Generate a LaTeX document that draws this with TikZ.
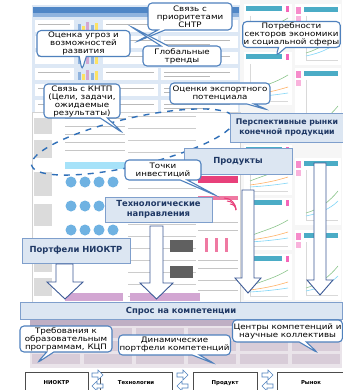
\documentclass[tikz,border=0pt]{standalone}
\usepackage{fontspec}
\setmainfont{DejaVu Sans}
\newfontfamily\calfont[FakeStretch=1.16]{DejaVu Sans}
\usetikzlibrary{shapes.callouts}
\definecolor{cborder}{HTML}{4F81BD}
\definecolor{bluefill}{HTML}{DCE6F2}
\definecolor{blueedge}{HTML}{7F9FCC}
\definecolor{navy}{HTML}{1F3864}
\definecolor{arrowedge}{HTML}{3C5A96}
\definecolor{scrbg}{HTML}{DDE8F5}
\definecolor{titlebar}{HTML}{4F86C6}
\definecolor{subbar}{HTML}{8FB3DE}
\definecolor{cyanbar}{HTML}{4BACC6}
\definecolor{pinkbar}{HTML}{E8407A}
\definecolor{circblue}{HTML}{6FB2E2}
\definecolor{bandbg}{HTML}{EAE4EA}
\definecolor{bandcell}{HTML}{D8CCD8}
\definecolor{bandhead}{HTML}{BFAFC4}
\definecolor{dashblue}{HTML}{2F6FB8}
\newcommand\cfont{\calfont\fontsize{7.5}{8}\selectfont}
\newcommand\bfont{\fontsize{8.4}{10.5}\selectfont\bfseries}
\newcommand\rfont{\fontsize{5.4}{6}\selectfont\bfseries}
\tikzset{
  callbox/.style={rectangle callout, draw=cborder, line width=1.1pt, fill=white,
    rounded corners=4pt, align=center, font=\cfont, inner sep=1pt},
  bluebox/.style={draw=blueedge, line width=0.9pt, fill=bluefill, align=center,
    font=\bfont, text=navy, inner sep=1pt},
  blockarrow/.style={draw=arrowedge, line width=0.9pt, fill=white},
  rowbox/.style={draw=gray!60!black, line width=0.7pt, fill=white, font=\rfont,
    minimum height=22pt, inner sep=1pt},
  smallarrow/.style={draw=cborder, line width=0.6pt, fill=white},
  txtline/.style={gray!55, line width=0.6pt}
}
\begin{document}
\begin{tikzpicture}[x=1pt,y=-1pt]
\useasboundingbox (0,0) rectangle (342,390);
\fill[white] (0,0) rectangle (342,390);

% ---------- top-left screenshot ----------
\fill[scrbg] (32,5) rectangle (240,112);
\fill[titlebar] (33,7) rectangle (239,13);
\fill[subbar] (33,13) rectangle (239,17);
\foreach \y in {20,36,52,68,84,100} {
  \fill[white] (35,\y) rectangle (74,\y+12);
  \fill[white] (103,\y) rectangle (158,\y+12);
  \fill[white] (161,\y) rectangle (238,\y+12);
  \draw[txtline] (38,\y+4) -- (70,\y+4);
  \draw[txtline] (106,\y+4) -- (154,\y+4);
  \draw[txtline] (164,\y+4) -- (230,\y+4);
  \draw[txtline] (164,\y+8) -- (210,\y+8);
  \fill[subbar] (78,\y+4) rectangle (81,\y+12);
  \fill[yellow!70!orange!60] (82,\y+6) rectangle (85,\y+12);
  \fill[violet!35] (86,\y+2) rectangle (89,\y+12);
  \fill[subbar] (91,\y+5) rectangle (94,\y+12);
  \fill[yellow!70!orange!60] (95,\y+3) rectangle (98,\y+12);
}

% ---------- right screenshot ----------
\fill[gray!7] (240,0) rectangle (342,302);
\foreach \ya/\yb in {4/48,52/105,145/195,198/250,254/300} {
  \fill[white] (244,\ya) rectangle (292,\yb);
  \fill[cyanbar] (246,\ya+2) rectangle (282,\ya+7);
  \fill[magenta!60] (286,\ya+2) rectangle (289,\ya+8);
  \draw[gray!30] (250,\ya+12) -- (250,\yb-4) -- (288,\yb-4);
  \draw[green!50!black!45, line width=0.6pt] (250,\yb-14) .. controls (265,\yb-20) and (275,\yb-22) .. (288,\yb-30);
  \draw[orange!60, line width=0.6pt] (250,\yb-10) .. controls (265,\yb-12) and (275,\yb-14) .. (288,\yb-18);
  \draw[cyan!50, line width=0.6pt] (250,\yb-8) .. controls (265,\yb-9) and (275,\yb-10) .. (288,\yb-12);
}
\foreach \ya/\yb in {4/65,68/140,158/225,230/300} {
  \fill[white] (295,\ya) rectangle (341,\yb);
  \fill[magenta!45] (296,\ya+3) rectangle (301,\ya+10);
  \fill[magenta!30] (296,\ya+12) rectangle (301,\ya+18);
  \fill[cyanbar] (304,\ya+3) rectangle (338,\ya+8);
  \draw[gray!30] (306,\ya+12) -- (306,\yb-5) -- (338,\yb-5);
  \draw[green!50!black!45, line width=0.6pt] (306,\yb-12) .. controls (320,\yb-16) and (330,\yb-24) .. (338,\yb-34);
  \draw[cyan!50, line width=0.6pt] (306,\yb-9) .. controls (320,\yb-12) and (330,\yb-16) .. (338,\yb-24);
}

% ---------- middle screenshot ----------
\fill[white] (32,112) rectangle (240,302);
\draw[gray!35] (32,112) rectangle (240,302);
\foreach \ya/\yb in {118/134,140/158,172/196,204/226,252/272,278/296} {
  \fill[gray!28] (34,\ya) rectangle (52,\yb);
}
\foreach \y in {118,126,134,142,150} {
  \draw[gray!45] (65,\y) -- (125,\y);
}
\fill[cyan!35] (65,162) rectangle (125,169);
\foreach \yy in {182,206,230} {
  \foreach \xx in {71,85,99,113} {
    \fill[circblue] (\xx,\yy) circle (5.5);
  }
}
\foreach \y in {116,128,140,152,164,176,188,200,212,224,236,248,260,272,284,296} {
  \draw[gray!40] (128,\y) -- (196,\y);
}
\fill[gray!75!black] (170,240) rectangle (193,252);
\fill[gray!75!black] (170,266) rectangle (193,278);
\fill[pinkbar] (198,176) rectangle (238,183);
\fill[pinkbar!70] (198,196) rectangle (238,200);
\foreach \r in {6,9,12} {
  \draw[pinkbar, line width=1pt] (200,210) arc (180:270:\r);
  \draw[pinkbar, line width=1pt] (236,210) arc (0:-90:\r);
}
\foreach \xx in {205,215,225} {
  \fill[pinkbar!70] (\xx,238) rectangle (\xx+3,252);
}
\foreach \y in {222,230,260,268,280,290} {
  \draw[gray!45] (198,\y) -- (238,\y);
}
\fill[violet!35] (65,293) rectangle (123,301);
\fill[violet!35] (130,293) rectangle (200,301);

% ---------- bottom band ----------
\fill[bandbg] (30,318) rectangle (342,368);
\fill[bandhead] (30,320) rectangle (342,326);
\foreach \yy in {328,341,354} {
  \foreach \xx in {32,84,136,188,240,292} {
    \fill[bandcell] (\xx,\yy) rectangle (\xx+48,\yy+10);
  }
}

% ---------- dashed loop ----------
\draw[dashblue, line width=1.4pt, dash pattern=on 6pt off 6pt, rotate around={13:(133,142)}]
  (133,142) ellipse [x radius=104, y radius=24];

% ---------- blue boxes ----------
\node[bluebox, font=\fontsize{7.8}{10.5}\selectfont\bfseries, minimum width=114pt, minimum height=29pt] (rynki) at (287,127.5)
  {Перспективные рынки\\конечной продукции};
\node[bluebox, minimum width=108pt, minimum height=26pt] (prod) at (238,161) {Продукты};
\node[bluebox, minimum width=107pt, minimum height=25pt] (tech) at (158.5,209.5)
  {Технологические\\направления};
\node[bluebox, minimum width=108pt, minimum height=25pt] (port) at (76,250.5) {Портфели НИОКТР};

% ---------- block arrows ----------
\draw[blockarrow] (56,264) -- (73,264) -- (73,282) -- (83,282) -- (65,299) -- (47,282) -- (56,282) -- cycle;
\draw[blockarrow] (150,226) -- (163,226) -- (163,283) -- (173,283) -- (156.5,299) -- (140,283) -- (150,283) -- cycle;
\draw[blockarrow] (242,190) -- (254,190) -- (254,278) -- (261,278) -- (248,293) -- (235,278) -- (242,278) -- cycle;
\draw[blockarrow] (314,163) -- (326,163) -- (326,280) -- (333,280) -- (320,295) -- (307,280) -- (314,280) -- cycle;

\node[bluebox, minimum width=322pt, minimum height=17pt] (spros) at (181,311) {Спрос на компетенции};

% ---------- callouts ----------
\node[callbox, minimum width=84pt, minimum height=27pt, callout absolute pointer={(136,42)}] (snr) at (190,16.5)
  {Связь с\\приоритетами\\СНТР};
\node[callbox, minimum width=93pt, minimum height=26pt, callout absolute pointer={(82,70)}] (ugroz) at (83.5,43.5)
  {Оценка угроз и\\возможностей\\развития};
\node[callbox, minimum width=78pt, minimum height=20pt, callout absolute pointer={(130,26)}] (glob) at (182,56)
  {Глобальные\\тренды};
\node[callbox, minimum width=95pt, minimum height=26pt, callout absolute pointer={(276,56)}] (potr) at (291.5,34.5)
  {Потребности\\секторов экономики\\и социальной сферы};
\node[callbox, minimum width=100pt, minimum height=21pt, callout absolute pointer={(268,110)}] (exp) at (220,93.5)
  {Оценки экспортного\\потенциала};
\node[callbox, minimum width=76pt, minimum height=34pt, callout absolute pointer={(123,133)}] (kntp) at (82,101)
  {Связь с КНТП\\(Цели, задачи,\\ожидаемые\\результаты)};
\node[callbox, minimum width=76pt, minimum height=20pt, callout absolute pointer={(217,196)}] (tochki) at (163,170)
  {Точки\\инвестиций};
\node[callbox, minimum width=92pt, minimum height=26pt, callout absolute pointer={(37,363)}] (treb) at (66,339)
  {Требования к\\образовательным\\программам, КЦП};
\node[callbox, minimum width=111pt, minimum height=20pt, callout absolute pointer={(215,364)}] (dyn) at (174.5,345)
  {Динамические\\портфели компетенций};
\node[callbox, minimum width=103pt, minimum height=22pt, callout absolute pointer={(318,353)}] (centr) at (287.5,331)
  {Центры компетенций и\\научные коллективы};

% ---------- bottom row ----------
\node[rowbox, minimum width=63pt] (niokr) at (56.5,383) {НИОКТР};
\node[rowbox, minimum width=72pt] (tehn) at (136,383) {Технологии};
\node[rowbox, minimum width=64pt] (produkt) at (225,383) {Продукт};
\node[rowbox, minimum width=68pt] (rynok) at (311,383) {Рынок};
\foreach \xa in {92,177,262} {
  \draw[smallarrow] (\xa,373) -- (\xa+6,373) -- (\xa+6,370) -- (\xa+11,375) -- (\xa+6,380) -- (\xa+6,377) -- (\xa,377) -- cycle;
  \draw[smallarrow] (\xa+11,384) -- (\xa+5,384) -- (\xa+5,381) -- (\xa,386) -- (\xa+5,391) -- (\xa+5,388) -- (\xa+11,388) -- cycle;
}
\end{tikzpicture}
\end{document}
